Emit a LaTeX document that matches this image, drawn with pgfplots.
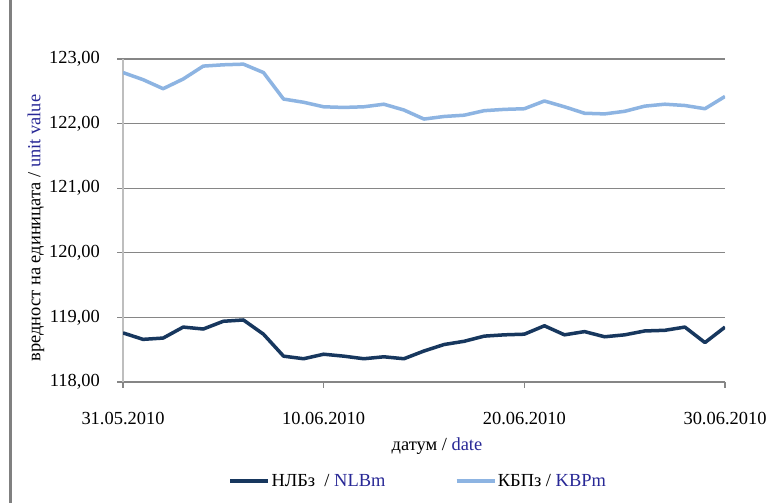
\documentclass[border=0pt]{standalone}
\usepackage{pgfplots}
\pgfplotsset{compat=1.18}
\usepackage{pgfplotstable}
\usepackage{fontspec}
\setmainfont{Liberation Serif}
\definecolor{darkline}{RGB}{23,55,94}
\definecolor{lightline}{RGB}{141,180,226}
\definecolor{gridgray}{RGB}{134,134,134}
\definecolor{axisgray}{RGB}{190,190,190}
\definecolor{txtblue}{RGB}{40,40,150}
\pgfplotstableread{
day nlb kbp
0 118.76 122.79
1 118.66 122.68
2 118.68 122.54
3 118.85 122.69
4 118.82 122.89
5 118.94 122.91
6 118.96 122.92
7 118.74 122.79
8 118.40 122.38
9 118.36 122.33
10 118.43 122.26
11 118.40 122.25
12 118.36 122.26
13 118.39 122.30
14 118.36 122.21
15 118.48 122.07
16 118.58 122.11
17 118.63 122.13
18 118.71 122.20
19 118.73 122.22
20 118.74 122.23
21 118.87 122.35
22 118.73 122.26
23 118.78 122.16
24 118.70 122.15
25 118.73 122.19
26 118.79 122.27
27 118.80 122.30
28 118.85 122.28
29 118.61 122.23
30 118.85 122.42
}\datatable
\begin{document}
\begin{tikzpicture}[x=1bp,y=1bp]
\path[use as bounding box] (0,0) rectangle (784,503);
\fill[white] (0,0) rectangle (784,503);
\draw[gray, line width=2.5bp] (10.5,0) -- (10.5,503);
\begin{axis}[
  at={(123bp,121bp)}, anchor=south west,
  scale only axis, width=602bp, height=323bp,
  xmin=0, xmax=30, ymin=118, ymax=123,
  axis x line*=bottom, axis y line*=left,
  x axis line style={gridgray, line width=1.3bp, -},
  y axis line style={axisgray, line width=2bp, -},
  xtick={0,10,20,30},
  xticklabels={31.05.2010,10.06.2010,20.06.2010,30.06.2010},
  ytick={118,119,120,121,122,123},
  tick align=outside,
  major tick length=6bp,
  x tick style={gridgray, line width=1.3bp},
  y tick style={gridgray, line width=1.3bp},
  ymajorgrids,
  major grid style={gridgray, line width=1.3bp},
  tick label style={font=\fontsize{18.5}{20}\selectfont},
  /pgf/number format/assume math mode=true,
  yticklabel style={/pgf/number format/.cd, use comma, fixed, fixed zerofill, precision=2, 1000 sep={}, /tikz/.cd, anchor=east, inner sep=0pt, xshift=-17bp},
  xticklabel style={anchor=base, inner sep=0pt, yshift=-37bp},
  legend style={at={(0.49,-0.3065)}, anchor=center, draw=none, fill=none,
    font=\fontsize{18.5}{20}\selectfont, legend columns=2,
    /tikz/every even column/.append style={column sep=68bp},
    nodes={inner sep=1.5bp}},
  legend image code/.code={\draw[#1, line width=3.5bp] (0bp,0bp) -- (38bp,0bp);},
]
\addplot[darkline, line width=3.5bp, line join=round] table[x=day, y=nlb] {\datatable};
\addlegendentry{НЛБз\ \ / \textcolor{txtblue}{NLBm}}
\addplot[lightline, line width=3.5bp, line join=round] table[x=day, y=kbp] {\datatable};
\addlegendentry{КБПз / \textcolor{txtblue}{KBPm}}
\end{axis}
\node[rotate=90, font=\fontsize{18.5}{20}\selectfont, inner sep=0pt] at (36,275) {вредност на единицата / \textcolor{txtblue}{unit value}};
\node[anchor=base, font=\fontsize{18.5}{20}\selectfont, inner sep=0pt] at (437,52) {датум / \textcolor{txtblue}{date}};
\end{tikzpicture}
\end{document}
